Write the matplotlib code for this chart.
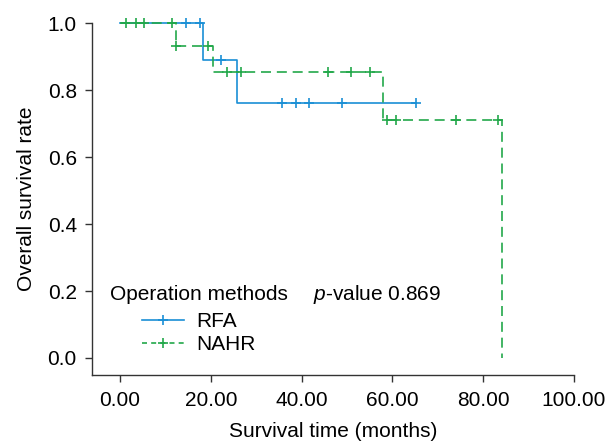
import numpy as np
import matplotlib
matplotlib.use('Agg')
import matplotlib.pyplot as plt
from matplotlib.lines import Line2D

plt.rcParams['font.family'] = ['Liberation Sans', 'DejaVu Sans']
plt.rcParams['mathtext.fontset'] = 'custom'
plt.rcParams['mathtext.it'] = 'Liberation Sans:italic'
plt.rcParams['mathtext.rm'] = 'Liberation Sans'

# Kaplan-Meier steps (event times, survival after the event)
rfa_times = [0, 18.4, 25.7, 65.1]
rfa_surv = [1.0, 0.889, 0.760, 0.760]
rfa_censored = [14.5, 17.7, 22.2, 35.8, 38.8, 41.7, 48.9, 65.1]

nahr_times = [0, 12.4, 20.5, 58.0, 84.1]
nahr_surv = [1.0, 0.933, 0.855, 0.711, 0.0]
nahr_censored = [1.3, 3.5, 5.4, 11.5, 12.4, 19.5, 23.5, 26.6, 45.8, 50.9,
                 55.0, 58.9, 60.9, 74.1, 83.3]

x_ticks = [0, 20, 40, 60, 80, 100]
y_ticks = [0.0, 0.2, 0.4, 0.6, 0.8, 1.0]

blue = '#1a8fd5'
green = '#22a84a'
FS = 15


def surv_at(times, surv, t):
    idx = np.searchsorted(times, t, side='right') - 1
    return np.array(surv)[idx]


fig = plt.figure(figsize=(6.08, 4.44), dpi=100)
ax = fig.add_axes([0.151, 0.156, 0.793, 0.792])

ax.step(rfa_times, rfa_surv, where='post', color=blue, lw=1.2, clip_on=False)
ax.plot(rfa_censored, surv_at(rfa_times, rfa_surv, rfa_censored), '+',
        color=blue, ms=7, mew=1.2, clip_on=False)

ax.step(nahr_times, nahr_surv, where='post', color=green, lw=1.2,
        dashes=(6, 3.5), clip_on=False)
ax.plot(nahr_censored, surv_at(nahr_times, nahr_surv, nahr_censored), '+',
        color=green, ms=7, mew=1.2, clip_on=False)

ax.set_xlim(-6.2, 100)
ax.set_ylim(-0.05, 1.0)
ax.set_xticks(x_ticks)
ax.set_xticklabels([f'{v:.2f}' for v in x_ticks])
ax.set_yticks(y_ticks)
ax.set_yticklabels([f'{v:.1f}' for v in y_ticks])
ax.tick_params(labelsize=FS, length=5, width=1, color='#333333')
ax.tick_params(axis='x', pad=6.5)
ax.tick_params(axis='y', pad=5.8)
for s in ['top', 'right']:
    ax.spines[s].set_visible(False)
for s in ['left', 'bottom']:
    ax.spines[s].set_color('#333333')
    ax.spines[s].set_linewidth(1)

ax.set_xlabel('Survival time (months)', fontsize=FS, labelpad=8.5)
ax.set_ylabel('Overall survival rate', fontsize=FS, labelpad=8)

fig.text(110 / 608, 1 - 295 / 444, 'Operation methods', fontsize=FS,
         va='center', ha='left')
fig.text(313 / 608, 1 - 295 / 444, r'$\it{p}$-value 0.869', fontsize=FS,
         va='center', ha='left')

handles = [
    Line2D([0, 0.5, 1], [0, 0, 0], color=blue, lw=1.2, marker='+', ms=7,
           mew=1.2, markevery=[1]),
    Line2D([0, 0.5, 1], [0, 0, 0], color=green, lw=1.2, dashes=(3, 2.5),
           marker='+', ms=7, mew=1.2, markevery=[1]),
]
leg = fig.legend(handles, ['RFA', 'NAHR'], loc='upper left',
                 bbox_to_anchor=(142 / 608, 1 - 312 / 444), frameon=False,
                 fontsize=FS, handlelength=2.0, handletextpad=0.6,
                 labelspacing=0.2, borderpad=0, borderaxespad=0)

fig.savefig('out.png', dpi=100)
